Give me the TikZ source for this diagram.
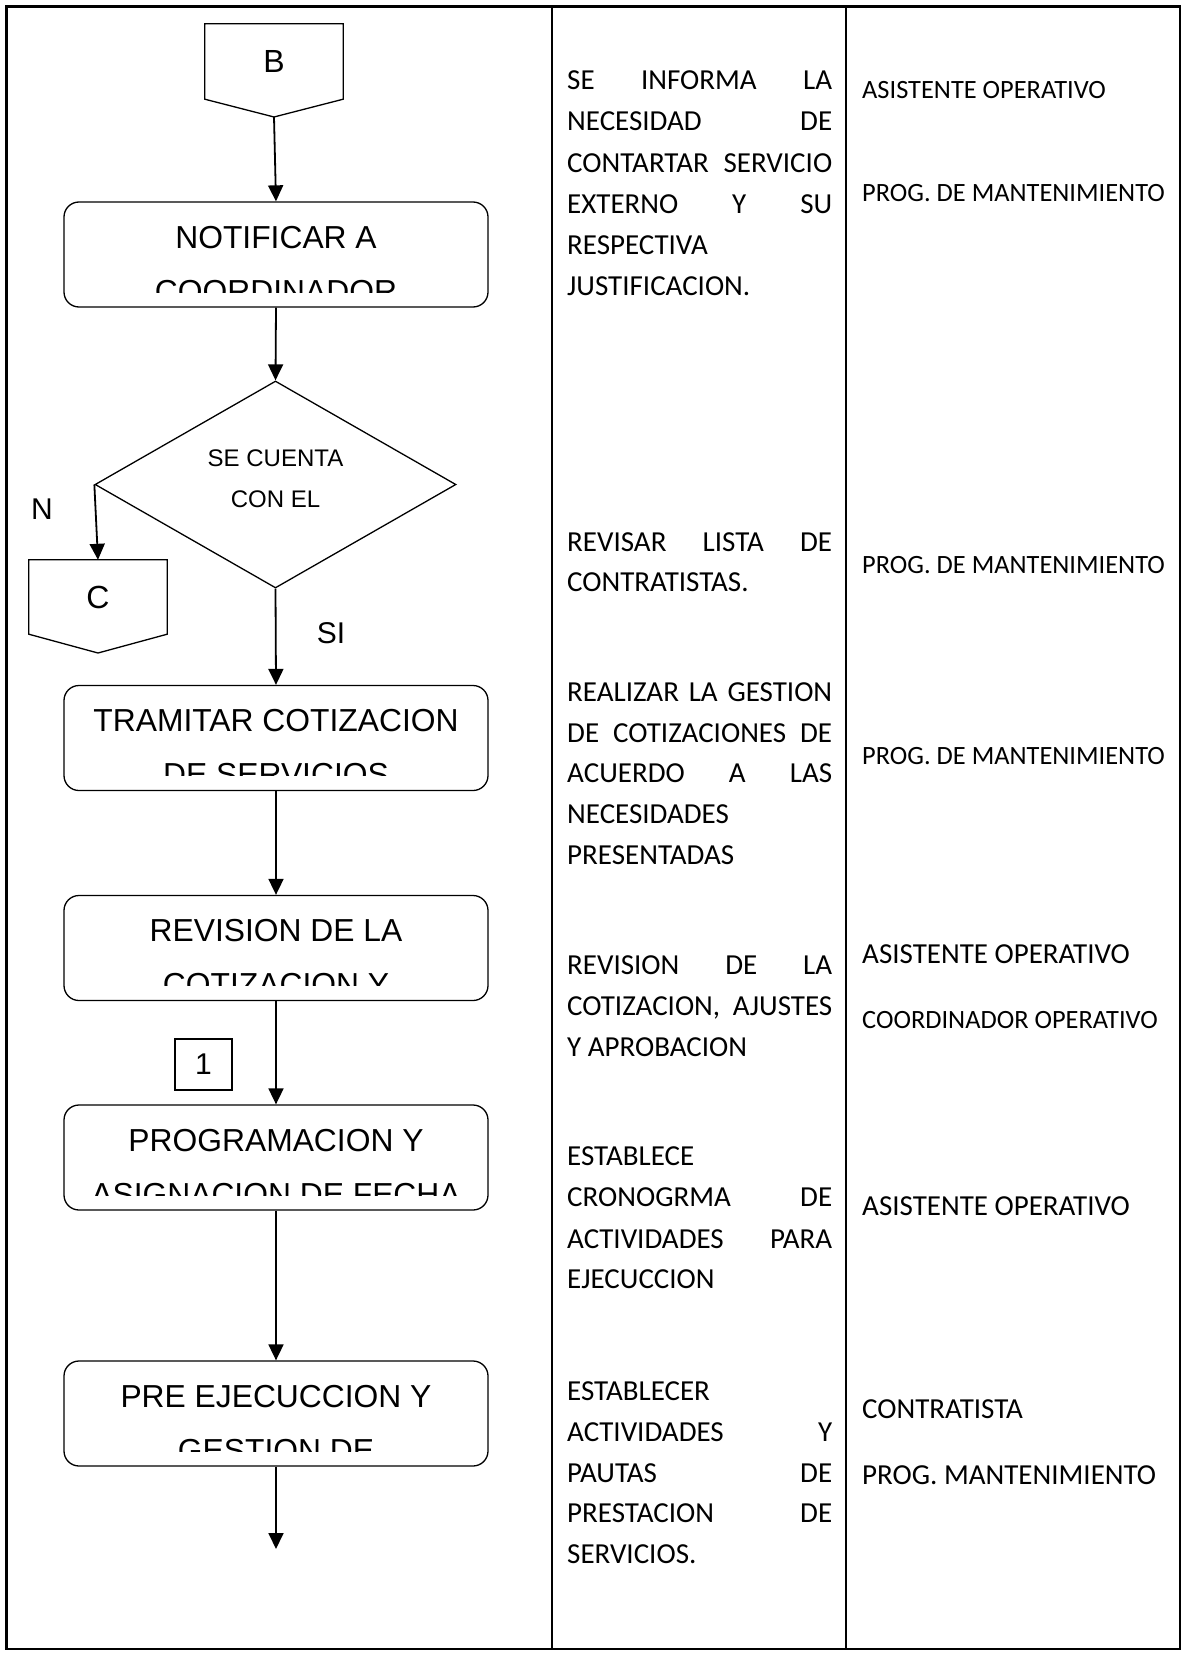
\documentclass[tikz,border=0pt]{standalone}
\usepackage{fontspec}
\setmainfont{Liberation Sans}
\newfontfamily\carl{Carlito}
\usetikzlibrary{shapes.geometric,arrows.meta}
\newcommand\jrow[3]{\node[coltxt] (#1) at (567,#2) {\hbox to 265pt{#3}};}
\newcommand\lrow[3]{\node[coltxt] (#1) at (567,#2) {#3};}
\begin{document}
\begin{tikzpicture}[x=1pt,y=-1pt,
  procbox/.style={draw,rounded corners=15pt,line width=1.3pt,minimum width=424pt,minimum height=105pt,inner sep=0pt},
  flow/.style={line width=1.8pt,-{Triangle[length=16pt,width=15pt]}},
  boxtxt/.style={anchor=base,inner sep=0pt,font=\fontsize{31.8}{36}\selectfont},
  bigtxt/.style={inner sep=0pt,font=\fontsize{32}{38}\selectfont},
  lbl/.style={inner sep=0pt,font=\fontsize{30}{36}\selectfont},
  coltxt/.style={anchor=base west,inner sep=0pt,font=\carl\fontsize{29}{35}\selectfont},
  rbig/.style={anchor=base west,inner sep=0pt,font=\carl\fontsize{29}{35}\selectfont},
  rsmall/.style={anchor=base west,inner sep=0pt,font=\carl\fontsize{26.4}{32}\selectfont},
]
\useasboundingbox (0,0) rectangle (1184,1654);
% table frame
\draw[line width=2.5pt] (6.5,6.5) rectangle (1180,1649);
\draw[line width=2pt] (552,6.5) -- (552,1649);
\draw[line width=2pt] (846,6.5) -- (846,1649);

% connector B
\node[bigtxt,minimum width=138pt,minimum height=75pt] (B) at (274,61.5) {B};
\coordinate (Btip) at (274,117);
\draw[line width=1.3pt] (B.north west) -- (B.north east) -- (B.south east) -- (Btip) -- (B.south west) -- cycle;

% process boxes
\node[procbox] (P1) at (276,254.5) {};
\begin{scope}
\clip (64,202) rectangle (488,292);
\node[boxtxt] (P1a) at (276,248) {NOTIFICAR A};
\node[boxtxt] (P1b) at (276,302) {COORDINADOR};
\end{scope}

\node[draw,diamond,line width=1.3pt,minimum width=361pt,minimum height=207pt,inner sep=0pt] (D) at (275.5,484.5) {};
\node[anchor=base,inner sep=0pt,font=\fontsize{24}{28}\selectfont] (Dt1) at (275.5,466) {SE CUENTA};
\node[anchor=base,inner sep=0pt,font=\fontsize{24}{28}\selectfont] (Dt2) at (275.5,507) {CON EL};

\node[lbl] (N) at (42,509) {N};
\node[lbl] (SI) at (331,633) {SI};

% connector C
\node[bigtxt,minimum width=138pt,minimum height=74pt] (C) at (98,597) {C};
\coordinate (Ctip) at (98,653);
\draw[line width=1.3pt] (C.north west) -- (C.north east) -- (C.south east) -- (Ctip) -- (C.south west) -- cycle;

\node[procbox] (P2) at (276,738) {};
\begin{scope}
\clip (64,685) rectangle (488,775);
\node[boxtxt] (P2a) at (276,731) {TRAMITAR COTIZACION};
\node[boxtxt] (P2b) at (276,785) {DE SERVICIOS};
\end{scope}

\node[procbox] (P3) at (276,948) {};
\begin{scope}
\clip (64,895) rectangle (488,985);
\node[boxtxt] (P3a) at (276,941) {REVISION DE LA};
\node[boxtxt] (P3b) at (276,995) {COTIZACION Y};
\end{scope}

\node[draw,line width=1.3pt,minimum width=57pt,minimum height=51pt,inner sep=0pt,font=\fontsize{30}{36}\selectfont] (one) at (203.5,1064.5) {1};

\node[procbox] (P4) at (276,1157.5) {};
\begin{scope}
\clip (64,1105) rectangle (488,1195);
\node[boxtxt] (P4a) at (276,1151) {PROGRAMACION Y};
\node[boxtxt] (P4b) at (276,1205) {ASIGNACION DE FECHA};
\end{scope}

\node[procbox] (P5) at (276,1413.5) {};
\begin{scope}
\clip (64,1361) rectangle (488,1451);
\node[boxtxt] (P5a) at (276,1407) {PRE EJECUCCION Y};
\node[boxtxt] (P5b) at (276,1461) {GESTION DE};
\end{scope}
\coordinate (End) at (276,1549);

% flow arrows
\draw[flow] (Btip) -- (P1.north);
\draw[flow] (P1.south) -- (D.north);
\draw[flow] (D.west) -- (C.north);
\draw[flow] (D.south) -- (P2.north);
\draw[flow] (P2.south) -- (P3.north);
\draw[flow] (P3.south) -- (P4.north);
\draw[flow] (P4.south) -- (P5.north);
\draw[flow] (P5.south) -- (End);

% description column
\jrow{a1}{89}{SE\hfill INFORMA\hfill LA}
\jrow{a2}{130}{NECESIDAD\hfill DE}
\jrow{a3}{172}{CONTARTAR\hfill SERVICIO}
\jrow{a4}{213}{EXTERNO\hfill Y\hfill SU}
\lrow{a5}{254}{RESPECTIVA}
\lrow{a6}{295}{JUSTIFICACION.}
\jrow{b1}{551}{REVISAR\hfill LISTA\hfill DE}
\lrow{b2}{591}{CONTRATISTAS.}
\jrow{c1}{701}{REALIZAR\hfill LA\hfill GESTION}
\jrow{c2}{742}{DE\hfill COTIZACIONES\hfill DE}
\jrow{c3}{782}{ACUERDO\hfill A\hfill LAS}
\lrow{c4}{823}{NECESIDADES}
\lrow{c5}{864}{PRESENTADAS}
\jrow{d1}{974}{REVISION\hfill DE\hfill LA}
\jrow{d2}{1015}{COTIZACION,\hfill AJUSTES}
\lrow{d3}{1056}{Y APROBACION}
\lrow{e1}{1165}{ESTABLECE}
\jrow{e2}{1206}{CRONOGRMA\hfill DE}
\jrow{e3}{1248}{ACTIVIDADES\hfill PARA}
\lrow{e4}{1288}{EJECUCCION}
\lrow{f1}{1400}{ESTABLECER}
\jrow{f2}{1441}{ACTIVIDADES\hfill Y}
\jrow{f3}{1482}{PAUTAS\hfill DE}
\jrow{f4}{1522}{PRESTACION\hfill DE}
\lrow{f5}{1563}{SERVICIOS.}

% responsible column
\node[rsmall] (r1) at (862,99) {ASISTENTE OPERATIVO};
\node[rsmall] (r2) at (862,201) {PROG. DE MANTENIMIENTO};
\node[rsmall] (r3) at (862,573) {PROG. DE MANTENIMIENTO};
\node[rsmall] (r4) at (862,764) {PROG. DE MANTENIMIENTO};
\node[rbig] (r5) at (862,963) {ASISTENTE OPERATIVO};
\node[rsmall] (r6) at (862,1028) {COORDINADOR OPERATIVO};
\node[rbig] (r7) at (862,1215) {ASISTENTE OPERATIVO};
\node[rbig] (r8) at (862,1418) {CONTRATISTA};
\node[rbig] (r9) at (862,1484) {PROG. MANTENIMIENTO};
\end{tikzpicture}
\end{document}
